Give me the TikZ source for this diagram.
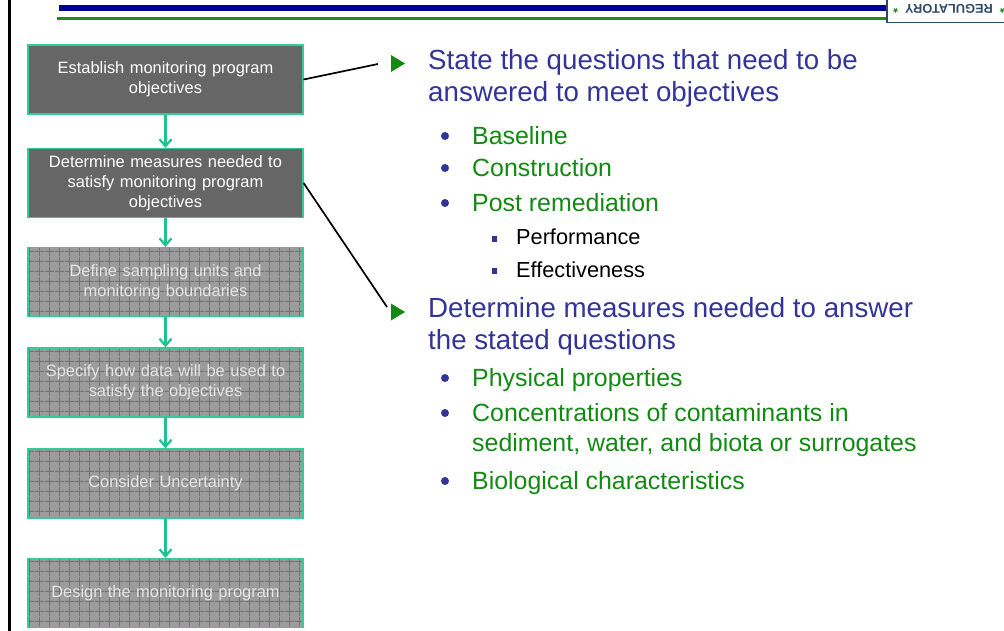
\documentclass[tikz,border=0pt]{standalone}
\usepackage{fontspec}
\setmainfont{Liberation Sans}
\usetikzlibrary{arrows.meta,patterns.meta}
\definecolor{slInk}{HTML}{000000}
\definecolor{slBar}{HTML}{000099}
\definecolor{slRule}{HTML}{1E8C1E}
\definecolor{slBox}{HTML}{666666}
\definecolor{slGrid}{HTML}{9C9C9C}
\definecolor{slGridLine}{HTML}{737373}
\definecolor{slTeal}{HTML}{22C28F}
\definecolor{slEdge}{HTML}{33CC99}
\definecolor{slHead}{HTML}{333399}
\definecolor{slGreen}{HTML}{128A12}
\definecolor{slLogo}{HTML}{2E4A66}
\tikzset{
 slide/.style={line cap=butt,line join=miter},
 flowbox/.style={rectangle,draw=slEdge,line width=1.2pt,fill=slBox,text=white,
   minimum width=275bp,minimum height=69bp,inner sep=0pt,text width=262bp,align=center,
   font=\fontsize{16.5}{20}\selectfont},
 gridbox/.style={flowbox,fill=none,preaction={fill=slGrid},
   pattern={Hatch[angle=0,distance=10bp,line width=.9bp]},pattern color=slGridLine,
   text=white!90!black},
 flow/.style={draw=slTeal,line width=2.2bp,-{Straight Barb[length=7bp,width=12bp,line width=2.2bp]}},
 link/.style={draw=slInk,line width=1.7bp},
 headline/.style={anchor=base west,inner sep=0pt,align=left,text=slHead,
   font=\fontsize{27.8}{32}\selectfont},
 subline/.style={anchor=base west,inner sep=0pt,align=left,text=slGreen,
   font=\fontsize{25}{30}\selectfont},
 leafline/.style={anchor=base west,inner sep=0pt,align=left,text=slInk,
   font=\fontsize{21.8}{26}\selectfont},
 logotag/.style={draw=slLogo,fill=white,line width=1.5pt,rotate=180,inner sep=0pt,
   minimum width=124bp,minimum height=27bp,text=slLogo,font=\fontsize{12.8}{14}\selectfont\bfseries}
}
\begin{document}
\begin{tikzpicture}[slide,x=1bp,y=-1bp]
 \useasboundingbox (0,0) rectangle (1004,631);
 % page frame and title rules
 \draw[slInk,line width=2.7bp] (9.3,0)--(9.3,631);
 \fill[slBar] (59,5) rectangle (886,11);
 \fill[slRule] (57,17.5) rectangle (886,20);
 \node[logotag] (logo) at (949,9) {{\color{slGreen}*}\ \ REGULATORY\ \ {\color{slGreen}*}};
 % flow of steps
 \node[flowbox] (s1) at (165.5,79.5) {Establish monitoring program\\objectives};
 \node[flowbox] (s2) at (165.5,183) {Determine measures needed to\\satisfy monitoring program\\objectives};
 \node[gridbox] (s3) at (165.5,282) {Define sampling units and\\monitoring boundaries};
 \node[gridbox] (s4) at (165.5,382.5) {Specify how data will be used to\\satisfy the objectives};
 \node[gridbox] (s5) at (165.5,483.5) {Consider Uncertainty};
 \node[gridbox] (s6) at (165.5,593) {Design the monitoring program};
 \foreach \a/\b in {s1/s2,s2/s3,s3/s4,s4/s5,s5/s6}{
  \draw[flow] (\a.south)--(\b.north);
 }
 % pointers to the text
 \coordinate (tipA) at (378,64);
 \coordinate (tipB) at (387,307);
 \draw[link] (s1.east)--(tipA);
 \draw[link] (s2.east)--(tipB);
 \foreach \y in {63.5,312}{
  \fill[slGreen] (391,\y-8.5)--(405,\y)--(391,\y+8.5)--cycle;
 }
 % bullet text
 \node[headline] (q1) at (428,101.2) {State the questions that need to be\\answered to meet objectives};
 \node[subline] (q1a) at (472,144.4) {Baseline};
 \node[subline] (q1b) at (472,176.4) {Construction};
 \node[subline] (q1c) at (472,211.4) {Post remediation};
 \node[leafline] (q1c1) at (516,244.6) {Performance};
 \node[leafline] (q1c2) at (516,277.6) {Effectiveness};
 \node[headline] (q2) at (428,349.2) {Determine measures needed to answer\\the stated questions};
 \node[subline] (q2a) at (472,386.4) {Physical properties};
 \node[subline] (q2b) at (472,451.4) {Concentrations of contaminants in\\sediment, water, and biota or surrogates};
 \node[subline] (q2c) at (472,489.4) {Biological characteristics};
 \foreach \y in {136,168,203,378,413,481}{\fill[slHead] (445,\y) circle (4);}
 \foreach \y in {239,271}{\fill[slHead] (491.7,\y-2.8) rectangle (497.3,\y+2.8);}
\end{tikzpicture}
\end{document}
